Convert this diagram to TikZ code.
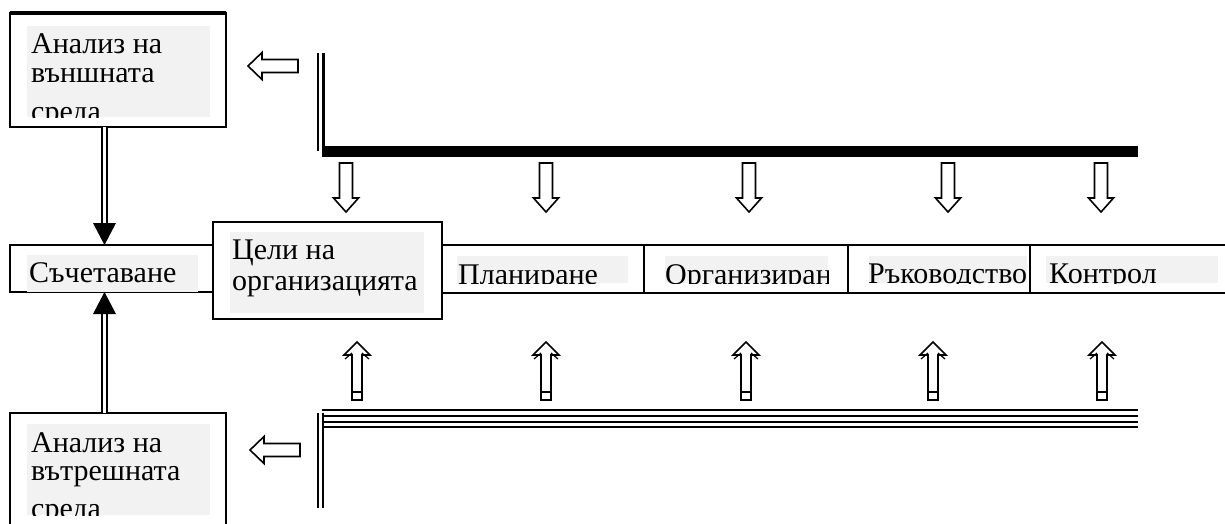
\documentclass[tikz,border=0pt]{standalone}
\usepackage{fontspec}
\setmainfont{Liberation Serif}
\usetikzlibrary{calc}
\definecolor{panel}{HTML}{F2F2F2}
\begin{document}
\begin{tikzpicture}[x=1pt,y=-1pt,
  frame/.style={draw, line width=2pt, inner sep=0pt, outer sep=0pt, fill=white},
  lbl/.style={anchor=base west, inner sep=0pt, font=\fontsize{30}{32}\selectfont},
  hollow/.style={draw, line width=1.6pt, fill=white, line join=miter},
  dbl/.style={double, double distance=3pt, line width=2pt},
  darrow/.pic={\draw[hollow] (-6.5,0) -- (6.5,0) -- (6.5,35) -- (12.5,35) -- (0,49)
      -- (-12.5,35) -- (-6.5,35) -- cycle;},
  uarrow/.pic={\draw[hollow] (0,0) -- (13,13) -- (5,13) -- (5,58) -- (-5,58) -- (-5,13)
      -- (-13,13) -- cycle;
    \draw[line width=1.2pt] (-5,50) -- (5,50);
    \draw[line width=1.2pt] (-12,17) -- (-5,11) (12,17) -- (5,11);},
  larrow/.pic={\draw[hollow] (0,0) -- (14,-13.5) -- (14,-6.5) -- (50,-6.5) -- (50,6.5)
      -- (14,6.5) -- (14,13.5) -- cycle;}
]
\useasboundingbox (0,0) rectangle (1225,523);

% external analysis box
\node[frame, minimum width=216pt, minimum height=114pt] (ext) at (118,70) {};
\draw[line width=4pt] (ext.north west) -- (ext.north east);
\begin{scope}
  \clip (27,26) rectangle (210,117);
  \fill[panel] (27,26) rectangle (210,117);
  \node[lbl] (ext1) at (31,53) {Анализ на};
  \node[lbl] (ext2) at (31,82) {външната};
  \node[lbl] (ext3) at (31,121) {среда};
\end{scope}

% internal analysis box (runs past the lower edge)
\node[frame, minimum width=216pt, minimum height=130pt] (int) at (118,478) {};
\begin{scope}
  \clip (27,424) rectangle (210,515);
  \fill[panel] (27,424) rectangle (210,515);
  \node[lbl] (int1) at (31,452) {Анализ на};
  \node[lbl] (int2) at (31,480) {вътрешната};
  \node[lbl] (int3) at (31,518) {среда};
\end{scope}

% middle row of cells
\node[frame, minimum width=203pt, minimum height=47pt] (match) at (111.5,268.5) {};
\node[frame, minimum width=202pt, minimum height=48pt] (plan) at (543,269) {};
\node[frame, minimum width=204pt, minimum height=48pt] (org) at (746,269) {};
\node[frame, minimum width=182pt, minimum height=48pt] (lead) at (939,269) {};
\node[frame, minimum width=215pt, minimum height=48pt] (ctrl) at (1137.5,269) {};
\node[frame, minimum width=229pt, minimum height=97pt] (goals) at (327.5,270.5) {};

\begin{scope}
  \clip (27,255) rectangle (198,292);
  \fill[panel] (27,255) rectangle (198,292);
  \node[lbl] (tmatch) at (29,282) {Съчетаване};
\end{scope}
\fill[panel] (230,232) rectangle (424,313);
\node[lbl] (tgoals1) at (232,259) {Цели на};
\node[lbl] (tgoals2) at (232,290) {организацията};
\begin{scope}
  \clip (457,256) rectangle (628,283);
  \fill[panel] (457,256) rectangle (628,283);
  \node[lbl] (tplan) at (458,284) {Планиране};
\end{scope}
\begin{scope}
  \clip (665,256) rectangle (828,283);
  \fill[panel] (665,256) rectangle (828,283);
  \node[lbl] (torg) at (665,284) {Организиране};
\end{scope}
\begin{scope}
  \clip (869,256) rectangle (1027,283);
  \fill[panel] (869,256) rectangle (1027,283);
  \node[lbl] (tlead) at (868,283) {Ръководство};
\end{scope}
\begin{scope}
  \clip (1046,256) rectangle (1218,283);
  \fill[panel] (1046,256) rectangle (1218,283);
  \node[lbl] (tctrl) at (1049,283) {Контрол};
\end{scope}

% double connectors into the matching cell
\coordinate (ax) at (104.5,0);
\draw[dbl] (ext.south -| ax) -- ($(match.north -| ax)+(0,-21)$);
\fill ($(match.north -| ax)+(-11.5,-22)$) -- ($(match.north -| ax)+(11.5,-22)$)
  -- (match.north -| ax) -- cycle;
\draw[dbl] (int.north -| ax) -- ($(match.south -| ax)+(0,21)$);
\fill ($(match.south -| ax)+(-11.5,22)$) -- ($(match.south -| ax)+(11.5,22)$)
  -- (match.south -| ax) -- cycle;

% upper rail
\coordinate (ur1) at (318,53);
\coordinate (ur2) at (323.5,53);
\coordinate (uh1) at (322,151);
\coordinate (uh2) at (1138,151);
\draw[line width=2pt] (ur1) -- (ur1 |- uh1);
\draw[line width=3pt] (ur2) -- ($(ur2 |- uh1)+(0,-1)$);
\draw[line width=11pt] (uh1) -- (uh2);

% lower rail
\coordinate (lv1) at (318,413);
\coordinate (lv2) at (323,413);
\draw[line width=2pt] (lv1) -- ++(0,95);
\draw[line width=2pt] (lv2) -- ++(0,95);
\foreach \yy/\xs in {410/322,416/323,422/323,427/323}
  \draw[line width=2pt] (\xs,\yy) -- (1138,\yy);

% hollow arrows
\pic (la1) at (248,66) {larrow};
\pic (la2) at (250,450) {larrow};
\foreach \cx [count=\i] in {346,546,749,948,1101}
  \pic (da\i) at (\cx,163) {darrow};
\foreach \cx [count=\i] in {357,546,746,933,1102}
  \pic (ua\i) at (\cx,342) {uarrow};
\end{tikzpicture}
\end{document}
